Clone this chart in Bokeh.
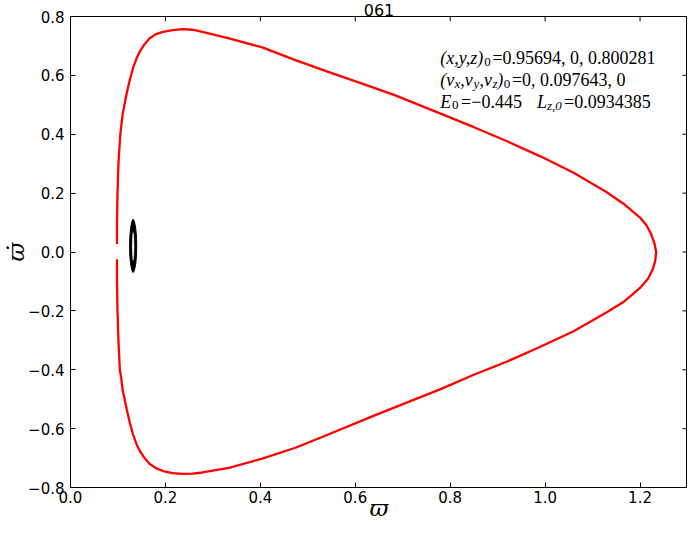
from bokeh.plotting import figure
from bokeh.models import Label, FixedTicker, Range1d
from bokeh.embed import file_html
from bokeh.resources import INLINE

# ---------------- data ----------------
title_text = "061"
x_label = "ϖ"
y_label = "ϖ̇"

x_ticks = [0.0, 0.2, 0.4, 0.6, 0.8, 1.0, 1.2]
x_tick_labels = ["0.0", "0.2", "0.4", "0.6", "0.8", "1.0", "1.2"]
y_ticks = [-0.8, -0.6, -0.4, -0.2, 0.0, 0.2, 0.4, 0.6, 0.8]
y_tick_labels = ["−0.8", "−0.6", "−0.4", "−0.2", "0.0", "0.2", "0.4", "0.6", "0.8"]

# red boundary curve, from upper-left end clockwise
curve_x = [0.098, 0.098, 0.099, 0.101, 0.105, 0.110, 0.118, 0.125, 0.132, 0.139, 0.146,
           0.156, 0.167, 0.180, 0.195, 0.215, 0.236, 0.257, 0.278, 0.334, 0.404, 0.474,
           0.543, 0.613, 0.683, 0.781, 0.850, 0.920, 0.990, 1.060, 1.130, 1.165,
           1.200, 1.213, 1.223, 1.230, 1.234, 1.232, 1.227, 1.217, 1.200, 1.165, 1.130, 1.060,
           0.990, 0.920, 0.851, 0.781, 0.711, 0.641, 0.543, 0.474, 0.404, 0.334,
           0.278, 0.257, 0.236, 0.215, 0.195, 0.180, 0.167, 0.156, 0.146, 0.139, 0.132, 0.125,
           0.118, 0.110, 0.107, 0.104, 0.101, 0.099, 0.098, 0.098]
curve_y = [0.027, 0.100, 0.200, 0.300, 0.400, 0.470, 0.536, 0.585, 0.626, 0.657, 0.681,
           0.706, 0.726, 0.740, 0.748, 0.754, 0.757, 0.755, 0.748, 0.726, 0.695, 0.652,
           0.612, 0.573, 0.533, 0.469, 0.424, 0.376, 0.325, 0.269, 0.203, 0.164,
           0.117, 0.092, 0.062, 0.032, 0.000, -0.030, -0.058, -0.090, -0.122, -0.170, -0.205, -0.269,
           -0.322, -0.372, -0.416, -0.465, -0.510, -0.555, -0.620, -0.665, -0.702, -0.733,
           -0.749, -0.753, -0.754, -0.751, -0.744, -0.734, -0.720, -0.700, -0.676, -0.652, -0.621, -0.580,
           -0.531, -0.470, -0.430, -0.400, -0.300, -0.200, -0.100, -0.025]

# black ring of orbit points (outer and inner outline)
ring_outer_x = [0.1320, 0.1347, 0.1375, 0.1391, 0.1395, 0.1391, 0.1375, 0.1347,
                0.1320, 0.1293, 0.1265, 0.1249, 0.1245, 0.1249, 0.1265, 0.1293]
ring_outer_y = [0.112, 0.104, 0.080, 0.050, 0.020, -0.010, -0.040, -0.062,
                -0.070, -0.062, -0.040, -0.010, 0.020, 0.050, 0.080, 0.104]
ring_inner_x = [0.1320, 0.1333, 0.1339, 0.1333, 0.1320, 0.1307, 0.1301, 0.1307]
ring_inner_y = [0.066, 0.050, 0.019, -0.012, -0.028, -0.012, 0.019, 0.050]

# ---------------- figure ----------------
p = figure(width=687, height=523, output_backend="svg", toolbar_location=None,
           x_range=Range1d(0, 1.3), y_range=Range1d(-0.8, 0.8),
           min_border_left=66, min_border_right=0, min_border_top=14, min_border_bottom=0,
           title=title_text)
p.background_fill_color = "white"
p.border_fill_color = "white"
p.outline_line_color = "black"
p.outline_line_width = 1
p.xgrid.visible = False
p.ygrid.visible = False

p.title.align = "center"
p.title.text_font = "DejaVu Sans"
p.title.text_font_style = "normal"
p.title.text_font_size = "16px"
p.title.text_color = "black"
p.title.standoff = 2
p.title.offset = 0

tick_font = "DejaVu Sans"
TICK_LEN_X = 0.0105   # inward tick length for the right edge, x-data units (~5px)
TICK_LEN_Y = 0.0165   # inward tick length for the top edge, y-data units (~5px)

def style_axis(ax, ticks, labels, standoff):
    ax.ticker = FixedTicker(ticks=ticks)
    ax.major_label_overrides = dict(zip(ticks, labels))
    ax.minor_tick_line_color = None
    ax.major_tick_in = 5
    ax.major_tick_out = 0
    ax.major_tick_line_color = "black"
    ax.axis_line_color = "black"
    ax.major_label_text_font = tick_font
    ax.major_label_text_color = "black"
    ax.major_label_text_font_size = "15px"
    ax.major_label_standoff = standoff

xa = p.xaxis[0]
ya = p.yaxis[0]
style_axis(xa, x_ticks, x_tick_labels, 3)
style_axis(ya, y_ticks, y_tick_labels, 6)

xa.axis_label = x_label
xa.axis_label_text_font = "DejaVu Serif"
xa.axis_label_text_font_style = "italic"
xa.axis_label_text_font_size = "23px"
xa.axis_label_text_color = "black"
xa.axis_label_standoff = -11

ya.axis_label = y_label
ya.axis_label_text_font = "DejaVu Serif"
ya.axis_label_text_font_style = "italic"
ya.axis_label_text_font_size = "23px"
ya.axis_label_text_color = "black"
ya.axis_label_standoff = -4

# inward ticks on the top and right edges (matplotlib classic style)
p.segment(x0=x_ticks, y0=[0.8] * len(x_ticks), x1=x_ticks, y1=[0.8 - TICK_LEN_Y] * len(x_ticks),
          line_color="black", line_width=1)
p.segment(x0=[1.3] * len(y_ticks), y0=y_ticks, x1=[1.3 - TICK_LEN_X] * len(y_ticks), y1=y_ticks,
          line_color="black", line_width=1)

# ---------------- glyphs ----------------
p.line(curve_x, curve_y, line_color="#ff0000", line_width=2.3)
p.patch(ring_outer_x, ring_outer_y, fill_color="black", line_color="black", line_width=1)
p.patch(ring_inner_x, ring_inner_y, fill_color="white", line_color="white", line_width=0.5)

# ---------------- annotation ----------------
serif = "Liberation Serif"

def piece(x, y, txt, size="18px", italic=False):
    p.add_layout(Label(x=x, y=y, text=txt, text_align="left", text_baseline="alphabetic",
                       text_font=serif, text_font_style="italic" if italic else "normal",
                       text_font_size=size, text_color="black"))

SUB = "13px"
L1, L1s = 0.658, 0.645
L2, L2s = 0.584, 0.571
L3, L3s = 0.511, 0.498
# line 1
piece(0.779, L1, "(x,y,z)", italic=True)
piece(0.872, L1s, "0", SUB)
piece(0.889, L1, "=0.95694, 0, 0.800281")
# line 2
piece(0.779, L2, "(v", italic=True)
piece(0.809, L2s, "x", SUB, italic=True)
piece(0.821, L2, ",v", italic=True)
piece(0.849, L2s, "y", SUB, italic=True)
piece(0.862, L2, ",v", italic=True)
piece(0.889, L2s, "z", SUB, italic=True)
piece(0.899, L2, ")", italic=True)
piece(0.913, L2s, "0", SUB)
piece(0.930, L2, "=0,  0.097643,  0")
# line 3
piece(0.779, L3, "E", italic=True)
piece(0.804, L3s, "0", SUB)
piece(0.823, L3, "=−0.445")
piece(0.983, L3, "L", italic=True)
piece(1.004, L3s, "z,0", SUB, italic=True)
piece(1.040, L3, "=0.0934385")

open("out.html", "w").write(file_html(p, INLINE))
